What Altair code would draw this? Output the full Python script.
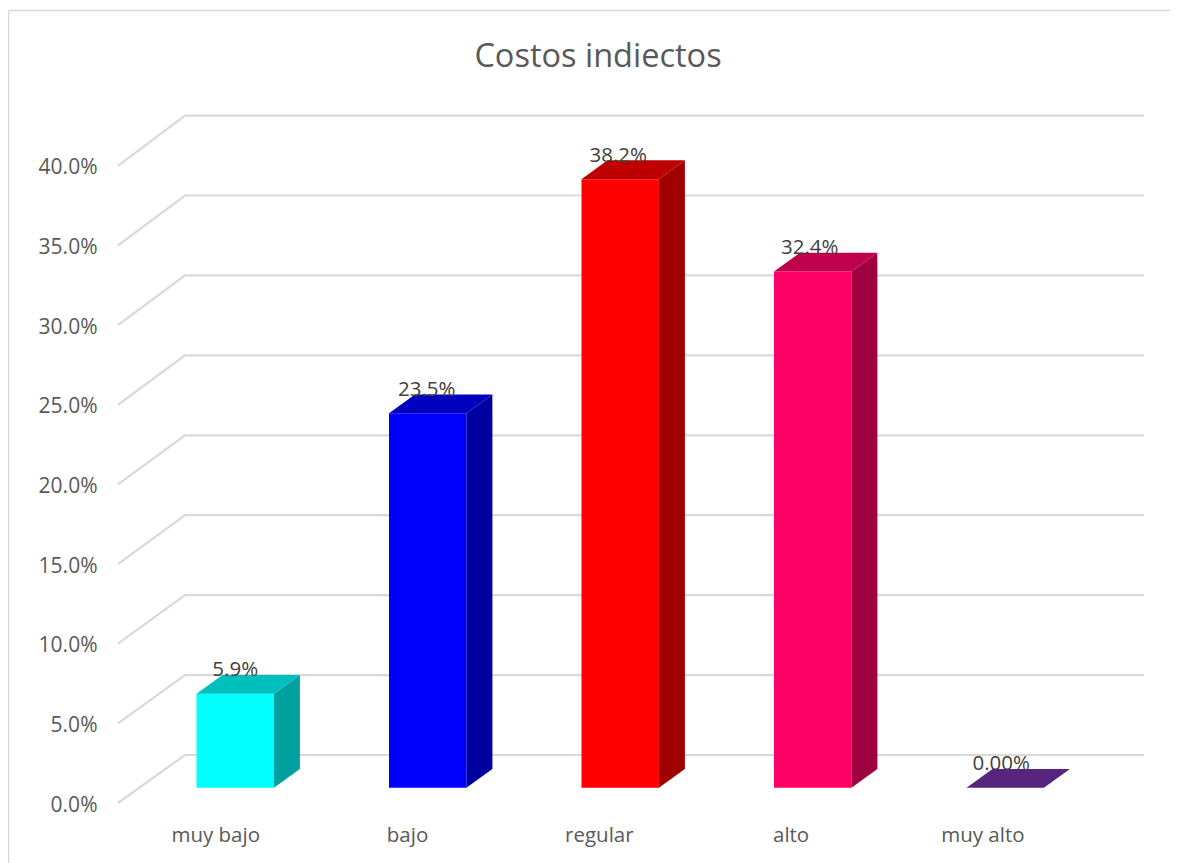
import altair as alt
import pandas as pd

categories = ["muy bajo", "bajo", "regular", "alto", "muy alto"]
values = [5.9, 23.5, 38.2, 32.4, 0.0]
value_labels = ["5.9%", "23.5%", "38.2%", "32.4%", "0.00%"]
front_colors = ["#00FFFF", "#0000FF", "#FF0000", "#FF0066", "#57257D"]
top_colors = ["#00BFBF", "#0000BF", "#BF0000", "#BF004C", "#57257D"]
side_colors = ["#00A0A0", "#0000A0", "#A00000", "#A00040", "#57257D"]
y_ticks = [0, 5, 10, 15, 20, 25, 30, 35, 40]

# Geometry of the oblique 3-D projection
W, H = 1162, 855
PX_PER_PCT = 15.93
PX_PER_CAT = 192.5
ZERO_Y = 803 - 8      # canvas y of 0 %
FIRST_X = 235.2 - 8   # canvas x of first bar's centre

x_domain = [-FIRST_X / PX_PER_CAT, (W - FIRST_X) / PX_PER_CAT]
y_domain = [(ZERO_Y - H) / PX_PER_PCT, ZERO_Y / PX_PER_PCT]
xs = alt.Scale(domain=x_domain, nice=False, zero=False)
ys = alt.Scale(domain=y_domain, nice=False, zero=False)

HALF = 38.7 / PX_PER_CAT
DX = 26 / PX_PER_CAT
DY = 18.8 / PX_PER_PCT
BASE = (803 - 787.7) / PX_PER_PCT
WALL_DY = 48 / PX_PER_PCT
WALL_STRETCH = 1.0035
WALL_FRONT = (118 - 235.2) / PX_PER_CAT
WALL_BACK = (185 - 235.2) / PX_PER_CAT
WALL_END = (1144 - 235.2) / PX_PER_CAT
LABEL_STEP = 191.8 / PX_PER_CAT
LABEL_SHIFT = 20 / PX_PER_CAT
VALUE_STEP = 191.5 / PX_PER_CAT
VALUE_DROP = 1.5 / PX_PER_PCT

x_vals = [i * LABEL_STEP - LABEL_SHIFT for i in range(len(categories))]
names_js = "[" + ",".join(f"'{c}'" for c in categories) + "]"
x_axis = alt.Axis(
    values=x_vals, domain=False, ticks=False, grid=False,
    labelExpr=f"{names_js}[round((datum.value + {LABEL_SHIFT}) / {LABEL_STEP})]",
    labelFont="Open Sans", labelFontSize=20.5, labelColor="#595959",
    labelPadding=0, offset=-38, labelOverlap=False, labelFlush=False, title=None,
)
y_axis = alt.Axis(
    values=y_ticks, domain=False, ticks=False, grid=False,
    labelExpr="format(datum.value / 100, '.1%')",
    labelFont="Open Sans", labelFontSize=21, labelColor="#595959",
    labelPadding=0, offset=-89, labelOverlap=False, labelFlush=False, title=None,
    labelOffset=2,
)


def X(field="x"):
    return alt.X(f"{field}:Q", scale=xs, axis=x_axis)


def Y(field="y"):
    return alt.Y(f"{field}:Q", scale=ys, axis=y_axis)


grid_rows = []
for t in y_ticks:
    back_y = t * WALL_STRETCH + WALL_DY
    grid_rows += [
        {"tick": t, "order": 0, "x": WALL_FRONT, "y": t},
        {"tick": t, "order": 1, "x": WALL_BACK, "y": back_y},
        {"tick": t, "order": 2, "x": WALL_END, "y": back_y},
    ]
grid = alt.Chart(pd.DataFrame(grid_rows)).mark_line(
    color="#D9D9D9", strokeWidth=2.2, interpolate="linear"
).encode(x=X(), y=Y(), detail="tick:N", order="order:Q")

layers = [grid]
for i, val in enumerate(values):
    y0, y1 = BASE, BASE + val
    left, right = i - HALF, i + HALF
    if val > 0:
        front = pd.DataFrame({"x": [left], "x2": [right], "y": [y0], "y2": [y1]})
        layers.append(
            alt.Chart(front).mark_rect(color=front_colors[i]).encode(
                x=X(), x2="x2:Q", y=Y(), y2="y2:Q",
            )
        )
        side = pd.DataFrame({
            "x": [right, right + DX],
            "y": [y0, y0 + DY],
            "y2": [y1, y1 + DY],
        })
        layers.append(
            alt.Chart(side).mark_area(color=side_colors[i], orient="vertical", opacity=1).encode(
                x=X(), y=Y(), y2="y2:Q",
            )
        )
    top = pd.DataFrame({
        "y": [y1, y1 + DY],
        "x": [left, left + DX],
        "x2": [right, right + DX],
    })
    layers.append(
        alt.Chart(top).mark_area(color=top_colors[i], orient="horizontal", opacity=1).encode(
            y=Y(), x=X(), x2="x2:Q",
        )
    )

labels = alt.Chart(pd.DataFrame({
    "x": [i * VALUE_STEP for i in range(len(categories))],
    "y": [BASE + v + DY - VALUE_DROP for v in values],
    "t": value_labels,
})).mark_text(
    font="Open Sans", fontSize=20.5, color="#404040", baseline="alphabetic", align="center"
).encode(x=X(), y=Y(), text="t:N")
layers.append(labels)

frame = [
    alt.Chart(pd.DataFrame({"a": [0]})).mark_rule(color="#D9D9D9", strokeWidth=1.5).encode(
        x=alt.value(0.5), y=alt.value(2.5), y2=alt.value(H)),
    alt.Chart(pd.DataFrame({"a": [0]})).mark_rule(color="#D9D9D9", strokeWidth=1.5).encode(
        x=alt.value(0.5), x2=alt.value(W), y=alt.value(2.5)),
]

chart = alt.layer(*frame, *layers).properties(
    width=W, height=H,
    padding=0,
    autosize=alt.AutoSizeParams(type="none"),
    title=alt.TitleParams(
        "Costos indiectos", font="Open Sans", fontSize=32.5, fontWeight="normal",
        color="#595959", anchor="middle", dy=65, dx=9, offset=0,
    ),
).configure_view(stroke=None)

chart.save("out.html", embed_options={"renderer": "svg", "actions": False})
